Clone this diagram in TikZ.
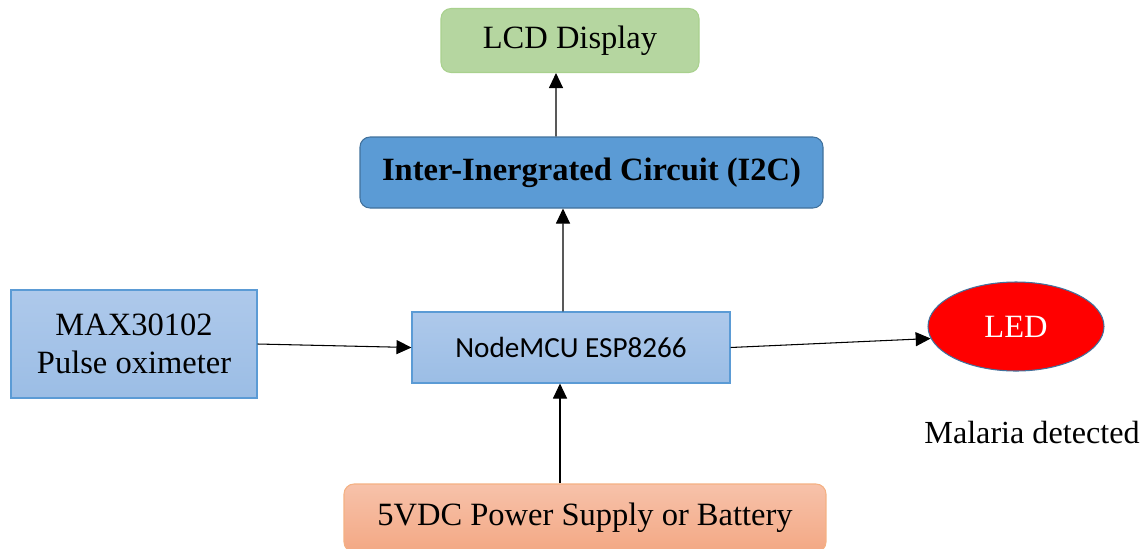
\documentclass[tikz,border=0pt]{standalone}
\usepackage{fontspec}
\setmainfont{Liberation Serif}
\newfontfamily\calibri{Carlito}
\usetikzlibrary{arrows.meta,positioning,calc,shapes.geometric}

\definecolor{lcdgreen}{RGB}{181,214,160}
\definecolor{lcdline}{RGB}{169,209,142}
\definecolor{busblue}{RGB}{91,155,213}
\definecolor{busline}{RGB}{65,113,156}
\definecolor{modtop}{RGB}{174,201,235}
\definecolor{modbot}{RGB}{155,189,229}
\definecolor{psutop}{RGB}{247,194,170}
\definecolor{psubot}{RGB}{243,168,132}
\definecolor{psuline}{RGB}{244,177,131}

\begin{document}
\begin{tikzpicture}[>={Triangle[length=0.3cm,width=0.28cm]},line width=0.6pt]
\tikzstyle{blk}=[minimum height=1.42cm,font=\fontsize{18.5}{22}\selectfont]
\tikzstyle{mod}=[draw=busblue,top color=modtop,bottom color=modbot]
\useasboundingbox (0,0) rectangle (22.92,-10.96);
\node[blk,draw=lcdline,fill=lcdgreen,rounded corners=0.2cm,minimum width=5.16cm,minimum height=1.28cm] (lcd) at (11.40,-0.81) {LCD Display};
\node[blk,draw=busline,fill=busblue,rounded corners=0.2cm,minimum width=9.26cm,font=\fontsize{18.5}{22}\selectfont\bfseries] (i2c) at (11.83,-3.45) {Inter-Inergrated Circuit (I2C)};
\node[blk,mod,minimum width=4.92cm,minimum height=2.16cm,align=center] (max) at (2.68,-6.88) {MAX30102\\Pulse oximeter};
\node[blk,mod,minimum width=6.36cm,font=\calibri\fontsize{16.6}{19}\selectfont] (mcu) at (11.42,-6.95) {NodeMCU ESP8266};
\node[ellipse,draw=busline,fill=red,text=white,minimum width=3.52cm,minimum height=1.78cm,font=\fontsize{18.5}{22}\selectfont] (led) at (20.32,-6.53) {LED};
\node[font=\fontsize{18.3}{22}\selectfont] (mal) at (20.64,-8.64) {Malaria detected};
\node[blk,draw=psuline,top color=psutop,bottom color=psubot,rounded corners=0.2cm,minimum width=9.64cm,minimum height=1.36cm] (psu) at (11.70,-10.36) {5VDC Power Supply or Battery};
\draw[->] ([xshift=-0.71cm]i2c.north) -- ([xshift=-0.28cm]lcd.south);
\draw[->] ([xshift=-0.16cm]mcu.north) -- ([xshift=-0.57cm]i2c.south);
\draw[->] ([xshift=-0.50cm]psu.north) -- ([xshift=-0.22cm]mcu.south);
\draw[->] (max.east) -- (mcu.west); \draw[->] (mcu.east) -- (led.188);
\end{tikzpicture}
\end{document}
